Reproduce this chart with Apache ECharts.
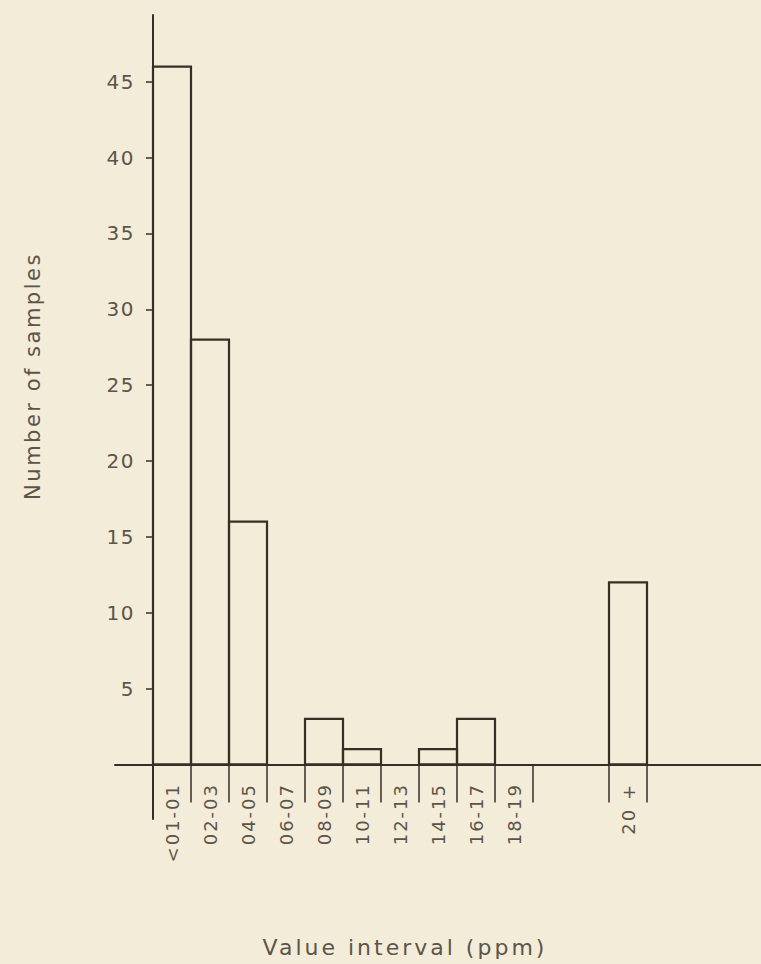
<!DOCTYPE html>
<html>
<head>
<meta charset="utf-8">
<script src="https://cdn.jsdelivr.net/npm/echarts@6/dist/echarts.min.js"></script>
<style>
  html, body { margin: 0; padding: 0; background: #f3ecd8; }
  #chart { width: 761px; height: 964px; }
  #chart text[style*="22px"] { letter-spacing: 3px; }
  #chart text[style*="21px"] { letter-spacing: 2.5px; }
  #chart text[style*="20px"] { letter-spacing: 1.5px; }
  #chart text[style*="18px"] { letter-spacing: 2px; }
</style>
</head>
<body>
<div id="chart"></div>
<script>
// ---- data ----
const intervalLabels = ["<01-01", "02-03", "04-05", "06-07", "08-09", "10-11", "12-13", "14-15", "16-17", "18-19", "20 +"];
const binStarts      = [0, 1, 2, 3, 4, 5, 6, 7, 8, 9, 12];
const sampleCounts   = [46, 28, 16, 0, 3, 1, 0, 1, 3, 0, 12];
const yTickValues    = [5, 10, 15, 20, 25, 30, 35, 40, 45];
const xTickBoundaries = [0, 1, 2, 3, 4, 5, 6, 7, 8, 9, 10, 12, 13];

const ink = '#382e26';
const textInk = '#5c544a';
const fontFam = '"DejaVu Sans", sans-serif';

const labelPositions = binStarts.map(b => b + 0.5);
const seriesData = binStarts.map((b, i) => [b, sampleCounts[i]]);

const chart = echarts.init(document.getElementById('chart'), null, { renderer: 'svg' });
chart.setOption({
  backgroundColor: '#f3ecd8',
  animation: false,
  grid: { left: 115, top: 15, width: 648, height: 804 },
  xAxis: {
    type: 'value',
    min: -1,
    max: 16,
    splitLine: { show: false },
    axisLine: { onZero: true, lineStyle: { color: ink, width: 2 } },
    axisTick: {
      show: true,
      customValues: xTickBoundaries,
      length: 38,
      lineStyle: { color: ink, width: 1.5 }
    },
    axisLabel: {
      customValues: labelPositions,
      rotate: 90,
      margin: -36,
      color: textInk,
      fontSize: 18,
      fontFamily: fontFam,
      formatter: function (v) {
        const i = labelPositions.findIndex(p => Math.abs(p - v) < 1e-6);
        return i >= 0 ? intervalLabels[i] : '';
      }
    }
  },
  yAxis: {
    type: 'value',
    min: -3.6,
    max: 49.4,
    splitLine: { show: false },
    axisLine: { show: true, onZero: true, lineStyle: { color: ink, width: 2 } },
    axisTick: {
      show: true,
      customValues: yTickValues,
      length: 7,
      lineStyle: { color: ink, width: 1.5 }
    },
    axisLabel: {
      customValues: yTickValues,
      margin: -20,
      color: textInk,
      fontSize: 20,
      fontFamily: fontFam
    }
  },
  series: [{
    type: 'custom',
    data: seriesData,
    renderItem: function (params, api) {
      const x0 = api.value(0);
      const v = api.value(1);
      if (!v) return null;
      const p0 = api.coord([x0, v]);
      const p1 = api.coord([x0 + 1, 0]);
      return {
        type: 'rect',
        shape: { x: p0[0], y: p0[1], width: p1[0] - p0[0], height: p1[1] - p0[1] },
        style: { fill: 'none', stroke: ink, lineWidth: 2.2 }
      };
    }
  }],
  graphic: [
    {
      type: 'text',
      x: 33, y: 376,
      rotation: Math.PI / 2,
      style: {
        text: 'Number of samples',
        fill: textInk,
        font: '21px ' + fontFam,
        align: 'center',
        verticalAlign: 'middle'
      }
    },
    {
      type: 'text',
      x: 405, y: 947,
      style: {
        text: 'Value interval (ppm)',
        fill: textInk,
        font: '22px ' + fontFam,
        align: 'center',
        verticalAlign: 'middle'
      }
    }
  ]
});
</script>
</body>
</html>
